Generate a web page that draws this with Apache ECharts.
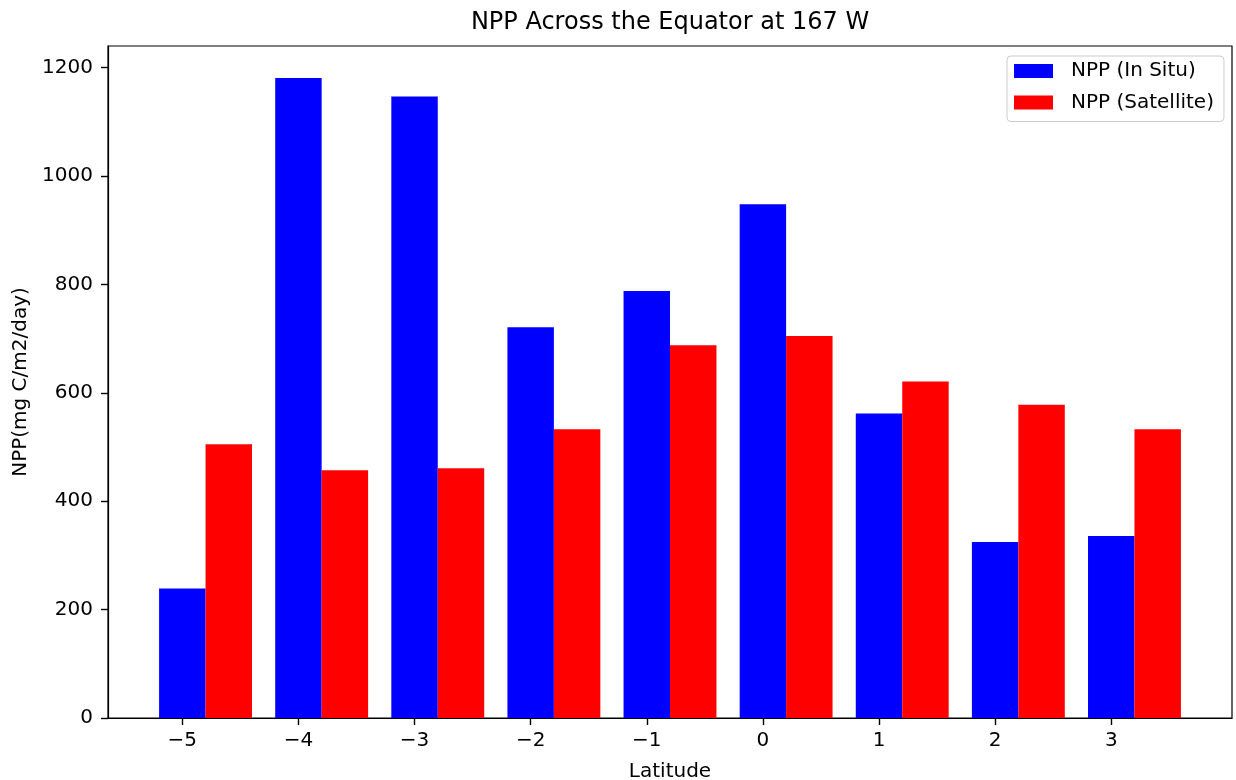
<!DOCTYPE html>
<html>
<head>
<meta charset="utf-8">
<script src="https://cdn.jsdelivr.net/npm/echarts@6/dist/echarts.min.js"></script>
<style>
  html, body { margin: 0; padding: 0; background: #fff; }
  #chart { width: 1236px; height: 780px; }
</style>
</head>
<body>
<div id="chart"></div>
<script>
// values
var latitudes = [-5, -4, -3, -2, -1, 0, 1, 2, 3];
var nppInSitu = [239, 1181, 1147, 721, 788, 948, 562, 325, 336];
var nppSatellite = [505, 457, 461, 533, 688, 705, 621, 578, 533];
var yTicks = [0, 200, 400, 600, 800, 1000, 1200];

var FONT = 'DejaVu Sans';
var BAR_W = 0.4;

// matplotlib style: blue centred on tick, red shifted right by one bar width
function barRenderer(offset) {
    return function (params, api) {
        var x = api.value(0), y = api.value(1);
        var p0 = api.coord([x + offset - BAR_W / 2, y]);
        var p1 = api.coord([x + offset + BAR_W / 2, 0]);
        return {
            type: 'rect',
            shape: { x: p0[0], y: p0[1], width: p1[0] - p0[0], height: p1[1] - p0[1] },
            style: api.style()
        };
    };
}

var minus = function (v) { return v < 0 ? '\u2212' + Math.abs(v) : String(v); };

var yMax = Math.max.apply(null, nppInSitu.concat(nppSatellite)) * 1.05;
var xMin = latitudes[0] - BAR_W / 2 - 0.44;
var xMax = latitudes[latitudes.length - 1] + BAR_W * 1.5 + 0.44;

var chart = echarts.init(document.getElementById('chart'));
var option = {
    animation: false,
    backgroundColor: '#fff',
    textStyle: { fontFamily: FONT },
    title: {
        text: 'NPP Across the Equator at 167 W',
        left: 670,
        textAlign: 'center',
        top: 11,
        padding: 0,
        textStyle: { fontFamily: FONT, fontSize: 24, fontWeight: 'normal', color: '#000' }
    },
    legend: {
        orient: 'vertical',
        left: 1007,
        top: 56,
        padding: [5, 10, 9, 7],
        itemWidth: 39,
        itemHeight: 14,
        itemGap: 11.5,
        backgroundColor: 'rgba(255,255,255,0.8)',
        borderColor: '#cccccc',
        borderWidth: 1,
        borderRadius: 4,
        textStyle: { fontFamily: FONT, fontSize: 20, color: '#000', lineHeight: 20, padding: [0, 0, 0, 13] },
        data: [
            { name: 'NPP (In Situ)', icon: 'rect' },
            { name: 'NPP (Satellite)', icon: 'rect' }
        ]
    },
    grid: {
        left: 108, right: 4, top: 46, bottom: 62,
        show: true,
        borderColor: '#000',
        borderWidth: 1.2,
        containLabel: false,
        outerBoundsMode: 'none'
    },
    xAxis: {
        type: 'value',
        min: xMin,
        max: xMax,
        name: 'Latitude',
        nameLocation: 'middle',
        nameGap: 44,
        nameTextStyle: { fontFamily: FONT, fontSize: 20, color: '#000' },
        splitLine: { show: false },
        axisLine: { show: true, onZero: false, lineStyle: { color: '#000', width: 1.2 } },
        axisTick: { show: true, length: 7, customValues: latitudes, lineStyle: { color: '#000', width: 1.4 } },
        axisLabel: {
            customValues: latitudes,
            margin: 13,
            fontFamily: FONT, fontSize: 20, color: '#000',
            formatter: minus
        }
    },
    yAxis: {
        type: 'value',
        min: 0,
        max: yMax,
        name: 'NPP(mg C/m2/day)',
        nameLocation: 'middle',
        nameGap: 76,
        nameTextStyle: { fontFamily: FONT, fontSize: 20, color: '#000' },
        splitLine: { show: false },
        axisLine: { show: true, onZero: false, lineStyle: { color: '#000', width: 1.2 } },
        axisTick: { show: true, length: 7, customValues: yTicks, lineStyle: { color: '#000', width: 1.4 } },
        axisLabel: {
            customValues: yTicks,
            margin: 15,
            fontFamily: FONT, fontSize: 20, color: '#000',
            formatter: function (v) { return String(v); }
        }
    },
    series: [
        {
            name: 'NPP (In Situ)',
            type: 'custom',
            renderItem: barRenderer(0),
            itemStyle: { color: '#0000ff' },
            encode: { x: 0, y: 1 },
            data: latitudes.map(function (lat, i) { return [lat, nppInSitu[i]]; })
        },
        {
            name: 'NPP (Satellite)',
            type: 'custom',
            renderItem: barRenderer(BAR_W),
            itemStyle: { color: '#ff0000' },
            encode: { x: 0, y: 1 },
            data: latitudes.map(function (lat, i) { return [lat, nppSatellite[i]]; })
        }
    ]
};
chart.setOption(option);
</script>
</body>
</html>
